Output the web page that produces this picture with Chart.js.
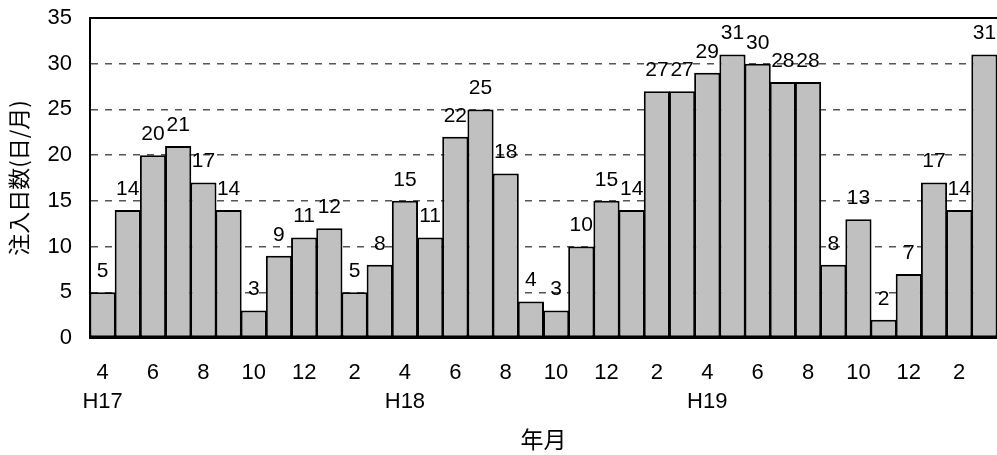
<!DOCTYPE html>
<html>
<head>
<meta charset="utf-8">
<script src="https://cdn.jsdelivr.net/npm/chart.js@4/dist/chart.umd.min.js"></script>
<style>
  html, body { margin: 0; padding: 0; background: #ffffff; }
  #wrap { width: 997px; height: 455px; }
</style>
</head>
<body>
<div id="wrap"><canvas id="c" width="997" height="455"></canvas></div>
<script>
// Monthly injection days, April H17 through March H20
const months = [4, 5, 6, 7, 8, 9, 10, 11, 12, 1, 2, 3,
                4, 5, 6, 7, 8, 9, 10, 11, 12, 1, 2, 3,
                4, 5, 6, 7, 8, 9, 10, 11, 12, 1, 2, 3];
const injectionDays = [5, 14, 20, 21, 17, 14, 3, 9, 11, 12, 5, 8,
                       15, 11, 22, 25, 18, 4, 3, 10, 15, 14, 27, 27,
                       29, 31, 30, 28, 28, 8, 13, 2, 7, 17, 14, 31];
const eraLabels = ['H17', 'H18', 'H19'];
const eraStartIndex = [0, 12, 24];
const yTicks = [0, 5, 10, 15, 20, 25, 30, 35];

const tickFont = { family: '"Liberation Sans", Arial, sans-serif', size: 22, lineHeight: 1.3 };
const cjkFont = '"Noto Sans CJK JP", "Noto Sans CJK SC", sans-serif';

// Value labels above each bar
const valueLabels = {
  id: 'valueLabels',
  afterDatasetsDraw(chart) {
    const ctx = chart.ctx;
    const meta = chart.getDatasetMeta(0);
    const values = chart.data.datasets[0].data;
    ctx.save();
    ctx.font = '21px "Liberation Sans", Arial, sans-serif';
    ctx.fillStyle = '#000000';
    ctx.textAlign = 'center';
    ctx.textBaseline = 'middle';
    meta.data.forEach((bar, i) => {
      ctx.fillText(String(values[i]), bar.x, bar.y - 21);
    });
    ctx.restore();
  }
};

// Keep the plot area fixed: no extra room for overhanging tick labels
function noOverhang(scale) {
  scale.paddingTop = 0;
  scale.paddingBottom = 0;
  scale.paddingLeft = 0;
  scale.paddingRight = 0;
}

new Chart(document.getElementById('c'), {
  type: 'bar',
  data: {
    labels: months.map(String),
    datasets: [{
      data: injectionDays,
      backgroundColor: '#c0c0c0',
      borderColor: '#000000',
      borderWidth: 2,
      borderSkipped: false,
      inflateAmount: 0,
      // slight overlap so neighbouring outlines merge into one edge
      barPercentage: 1.04,
      categoryPercentage: 1.0
    }]
  },
  options: {
    responsive: false,
    animation: false,
    devicePixelRatio: 1,
    layout: { padding: { top: 0, right: 0, bottom: 0, left: 0 } },
    plugins: {
      legend: { display: false },
      tooltip: { enabled: false }
    },
    scales: {
      x: {
        type: 'category',
        position: 'bottom',
        offset: true,
        grid: { display: false, drawTicks: false },
        border: { display: true, color: '#000000', width: 2 },
        ticks: {
          autoSkip: false,
          maxRotation: 0,
          minRotation: 0,
          padding: 21,
          color: '#000000',
          font: tickFont,
          callback: function (value, index) {
            if (index % 2 !== 0) return '';
            const k = eraStartIndex.indexOf(index);
            const m = String(months[index]);
            return k >= 0 ? [m, eraLabels[k]] : m;
          }
        },
        title: {
          display: true,
          text: '年月',
          color: '#000000',
          font: { family: cjkFont, size: 23, lineHeight: 1.2 },
          padding: { top: 0, bottom: 2 }
        },
        afterFit(scale) { scale.height = 117; noOverhang(scale); }
      },
      xTop: {
        type: 'category',
        position: 'top',
        offset: true,
        grid: { display: false, drawTicks: false },
        border: { display: true, color: '#000000', width: 2 },
        ticks: { display: false },
        afterFit(scale) { scale.height = 18; noOverhang(scale); }
      },
      y: {
        min: 0,
        max: 35,
        afterBuildTicks(scale) { scale.ticks = yTicks.map(v => ({ value: v })); },
        grid: {
          drawTicks: false,
          color: (c) => (c.tick && (c.tick.value === 0 || c.tick.value === 35)) ? 'rgba(0,0,0,0)' : '#555555',
          lineWidth: 1.5
        },
        border: { display: true, color: '#000000', width: 2, dash: [7, 7] },
        ticks: {
          padding: 18,
          color: '#000000',
          font: tickFont
        },
        title: {
          display: true,
          text: '注入日数(日/月)',
          color: '#000000',
          font: { family: cjkFont, size: 22, lineHeight: 1.2 },
          padding: { top: 5, bottom: 0 }
        },
        afterFit(scale) { scale.width = 90; noOverhang(scale); }
      }
    }
  },
  plugins: [valueLabels]
});
</script>
</body>
</html>
